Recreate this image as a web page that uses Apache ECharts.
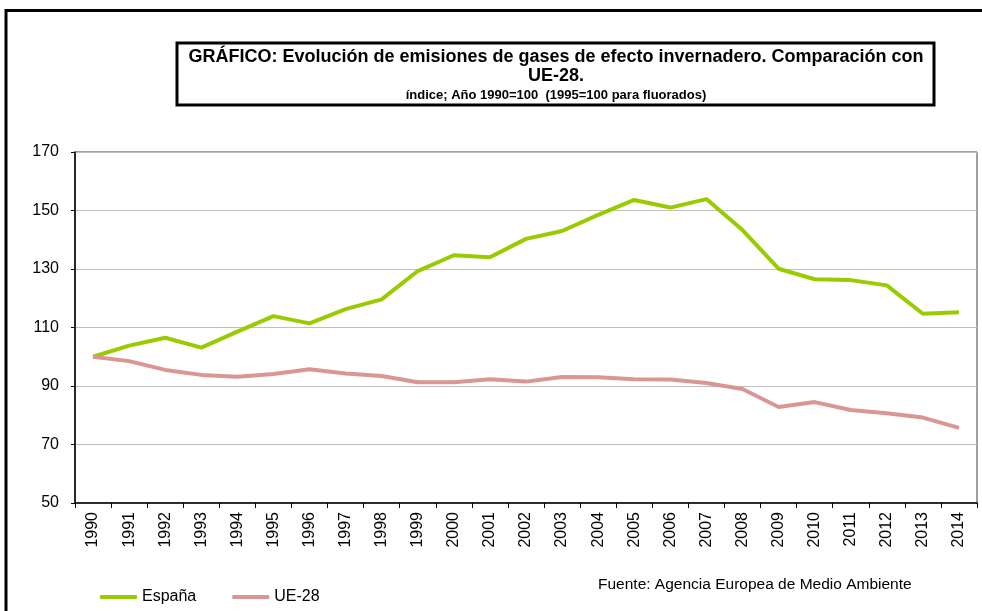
<!DOCTYPE html>
<html>
<head>
<meta charset="utf-8">
<script src="https://cdn.jsdelivr.net/npm/echarts@6/dist/echarts.min.js"></script>
<style>
  html, body { margin: 0; padding: 0; background: #fff; }
  #chart { width: 982px; height: 611px; }
</style>
</head>
<body>
<div id="chart"></div>
<script>
// años
var years = ['1990', '1991', '1992', '1993', '1994', '1995', '1996', '1997', '1998', '1999',
  '2000', '2001', '2002', '2003', '2004', '2005', '2006', '2007', '2008', '2009',
  '2010', '2011', '2012', '2013', '2014']
// índice 1990=100
var espana = [100, 103.8, 106.5, 103.1, 108.6, 113.9, 111.4, 116.3, 119.6, 129.3,
  134.7, 134.0, 140.3, 143.0, 148.5, 153.6, 151.0, 153.9, 143.3, 130.1,
  126.5, 126.2, 124.4, 114.7, 115.2]
var ue28 = [100, 98.5, 95.5, 93.8, 93.2, 94.1, 95.7, 94.3, 93.4, 91.3,
  91.3, 92.3, 91.5, 93.1, 93.0, 92.3, 92.2, 91.0, 89.0, 82.8,
  84.5, 81.8, 80.7, 79.2, 75.7]
var yTicks = [50, 70, 90, 110, 130, 150, 170]

var font = '"Liberation Sans", Arial, sans-serif'
var chart = echarts.init(document.getElementById('chart'), null, { renderer: 'canvas' })

chart.setOption({
  animation: false,
  backgroundColor: '#fff',
  textStyle: { fontFamily: font, color: '#000' },
  title: {
    text: 'GRÁFICO: Evolución de emisiones de gases de efecto invernadero. Comparación con\nUE-28.',
    subtext: 'índice; Año 1990=100  (1995=100 para fluorados)',
    left: 556,
    top: 48,
    textAlign: 'center',
    padding: 0,
    itemGap: 3,
    textStyle: { fontFamily: font, fontSize: 18, fontWeight: 'bold', color: '#000', lineHeight: 19 },
    subtextStyle: { fontFamily: font, fontSize: 13, fontWeight: 'bold', color: '#000' }
  },
  graphic: [
    {
      type: 'rect',
      shape: { x: 6, y: 10.5, width: 1000, height: 640 },
      style: { fill: null, stroke: '#000', lineWidth: 3 },
      silent: true
    },
    {
      type: 'rect',
      shape: { x: 177, y: 43, width: 757, height: 62 },
      style: { fill: null, stroke: '#000', lineWidth: 3 },
      silent: true
    },
    {
      type: 'text',
      left: 598,
      top: 577,
      style: { text: 'Fuente: Agencia Europea de Medio Ambiente', fontFamily: font, fontSize: 15.5, fill: '#000' }
    }
  ],
  legend: {
    left: 100,
    top: 589,
    padding: 0,
    itemWidth: 37,
    itemHeight: 4,
    itemGap: 36,
    icon: 'roundRect',
    textStyle: { fontFamily: font, fontSize: 16, color: '#000' },
    data: ['España', 'UE-28']
  },
  grid: {
    left: 75,
    top: 152,
    right: 5,
    bottom: 108,
    show: true,
    borderColor: '#404040',
    borderWidth: 1,
    containLabel: false
  },
  xAxis: {
    type: 'category',
    data: years,
    boundaryGap: true,
    axisLine: { lineStyle: { color: '#000', width: 1.5 } },
    axisTick: { show: true, length: 5, lineStyle: { color: '#000' } },
    axisLabel: { rotate: 90, fontSize: 16, color: '#000', margin: 9, fontFamily: font }
  },
  yAxis: {
    type: 'value',
    min: yTicks[0],
    max: yTicks[yTicks.length - 1],
    interval: 20,
    axisLine: { show: true, lineStyle: { color: '#000', width: 1.5 } },
    axisTick: { show: true, length: 4, lineStyle: { color: '#000' } },
    axisLabel: { fontSize: 16, color: '#000', margin: 16, fontFamily: font },
    splitLine: { lineStyle: { color: '#bfbfbf', width: 1 } }
  },
  series: [
    {
      name: 'España',
      type: 'line',
      data: espana,
      showSymbol: false,
      symbol: 'none',
      lineStyle: { color: '#99cc00', width: 4 },
      itemStyle: { color: '#99cc00' }
    },
    {
      name: 'UE-28',
      type: 'line',
      data: ue28,
      showSymbol: false,
      symbol: 'none',
      lineStyle: { color: '#d99694', width: 4 },
      itemStyle: { color: '#d99694' }
    }
  ]
})
</script>
</body>
</html>
